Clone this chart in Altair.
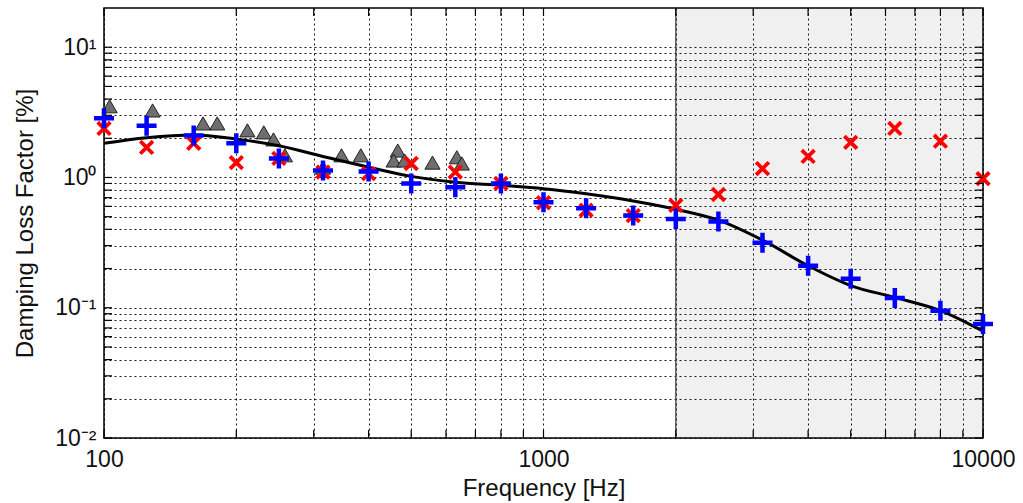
import altair as alt
import pandas as pd

# 1/3-octave band centre frequencies
bands = [100, 125, 160, 200, 250, 315, 400, 500, 630, 800, 1000, 1250, 1600,
         2000, 2500, 3150, 4000, 5000, 6300, 8000, 10000]
blue_vals = [2.85, 2.5, 2.1, 1.83, 1.4, 1.13, 1.11, 0.9, 0.84, 0.9, 0.645, 0.58,
             0.51, 0.48, 0.46, 0.316, 0.21, 0.167, 0.119, 0.095, 0.075]
red_vals = [2.38, 1.7, 1.83, 1.3, 1.4, 1.1, 1.07, 1.28, 1.1, 0.9, 0.64, 0.56,
            0.51, 0.61, 0.74, 1.17, 1.45, 1.86, 2.38, 1.9, 0.98]
line_vals = [1.83, 2.02, 2.12, 1.97, 1.75, 1.45, 1.2, 1.02, 0.92, 0.87, 0.82,
             0.75, 0.66, 0.57, 0.47, 0.33, 0.21, 0.148, 0.12, 0.095, 0.066]
tri_freq = [103, 129, 168, 181, 212, 231, 243, 258, 315, 347, 384, 466, 456,
            483, 559, 635, 652]
tri_vals = [3.52, 3.27, 2.6, 2.6, 2.3, 2.22, 1.96, 1.48, 1.19, 1.48, 1.48, 1.61,
            1.35, 1.35, 1.3, 1.43, 1.28]
shade_start = [2000]
shade_end = [10000]

x_ticks = [100, 200, 300, 400, 500, 600, 700, 800, 900,
           1000, 2000, 3000, 4000, 5000, 6000, 7000, 8000, 9000, 10000]
y_ticks = [0.01, 0.02, 0.03, 0.04, 0.05, 0.06, 0.07, 0.08, 0.09,
           0.1, 0.2, 0.3, 0.4, 0.5, 0.6, 0.7, 0.8, 0.9,
           1, 2, 3, 4, 5, 6, 7, 8, 9, 10]

W, H = 879, 430
xdom = [100, 10000]
ydom = [0.01, 20]

FONT = "Liberation Sans"

xscale = alt.Scale(type="log", domain=xdom, nice=False)
yscale = alt.Scale(type="log", domain=ydom, nice=False)

x_axis = alt.Axis(
    values=x_ticks,
    labelExpr="indexof([100,1000,10000], datum.value) >= 0 ? format(datum.value, 'd') : ''",
    grid=True, gridColor="#000", gridDash=[2, 3], gridOpacity=0.9, gridWidth=1,
    ticks=False, domain=False, labelFont=FONT, labelFontSize=23, labelColor="#111",
    labelPadding=10, labelFlush=False, labelOverlap=False,
    title="Frequency [Hz]", titleFont=FONT, titleFontSize=24, titleFontWeight="normal",
    titleColor="#111", titleY=50, titleBaseline="middle",
)
y_axis = alt.Axis(
    values=y_ticks,
    labelExpr="datum.value == 10 ? '10\u00b9' : datum.value == 1 ? '10\u2070' : datum.value == 0.1 ? '10\u207b\u00b9' : datum.value == 0.01 ? '10\u207b\u00b2' : ''",
    grid=True, gridColor="#000", gridDash=[2, 3], gridOpacity=0.9, gridWidth=1,
    ticks=False, domain=False, labelFont=FONT, labelFontSize=23, labelColor="#111",
    labelPadding=8, labelFlush=False, labelOverlap=False,
    title="Damping Loss Factor [%]", titleFont=FONT, titleFontSize=24,
    titleFontWeight="normal", titleColor="#111", titleX=-79, titleY=H / 2,
    titleAngle=-90, titleBaseline="middle", titleAlign="center",
)

shade_df = pd.DataFrame({"x": shade_start, "x2": shade_end})
shade = alt.Chart(shade_df).mark_rect(color="#000", opacity=0.058).encode(
    x=alt.X("x:Q", scale=xscale, axis=x_axis),
    x2="x2:Q",
    y=alt.value(0),
    y2=alt.value(H),
)
shade_edge = alt.Chart(shade_df).mark_rule(color="#444", strokeWidth=1.3).encode(
    x=alt.X("x:Q", scale=xscale),
    y=alt.value(0),
    y2=alt.value(H),
)

# inward tick marks on all four sides
xt = pd.DataFrame({"v": x_ticks})
yt = pd.DataFrame({"v": y_ticks})
tick_style = dict(color="#000", strokeWidth=1.2)
xt_bottom = alt.Chart(xt).mark_rule(**tick_style).encode(
    x=alt.X("v:Q", scale=xscale), y=alt.value(H), y2=alt.value(H - 8))
xt_top = alt.Chart(xt).mark_rule(**tick_style).encode(
    x=alt.X("v:Q", scale=xscale), y=alt.value(0), y2=alt.value(8))
yt_left = alt.Chart(yt).mark_rule(**tick_style).encode(
    y=alt.Y("v:Q", scale=yscale), x=alt.value(0), x2=alt.value(8))
yt_right = alt.Chart(yt).mark_rule(**tick_style).encode(
    y=alt.Y("v:Q", scale=yscale), x=alt.value(W), x2=alt.value(W - 8))

tri_df = pd.DataFrame({"f": tri_freq, "v": tri_vals})
tri = alt.Chart(tri_df).mark_point(
    shape="triangle-up", filled=True, fill="#6e6e6e", stroke="#222",
    strokeWidth=1, size=230, opacity=1,
).encode(
    x=alt.X("f:Q", scale=xscale),
    y=alt.Y("v:Q", scale=yscale, axis=y_axis),
)

line_df = pd.DataFrame({"f": bands, "v": line_vals})
line = alt.Chart(line_df).mark_line(color="#000", strokeWidth=3, interpolate="monotone").encode(
    x=alt.X("f:Q", scale=xscale),
    y=alt.Y("v:Q", scale=yscale),
)

red_df = pd.DataFrame({"f": bands, "v": red_vals})
red = alt.Chart(red_df).mark_point(
    shape="M-1,-1L1,1M1,-1L-1,1", filled=False, stroke="#ff0000",
    strokeWidth=3.8, size=160, opacity=1,
).encode(
    x=alt.X("f:Q", scale=xscale),
    y=alt.Y("v:Q", scale=yscale),
)

blue_df = pd.DataFrame({"f": bands, "v": blue_vals})
blue = alt.Chart(blue_df).mark_point(
    shape="M-1,0H1M0,-1V1", filled=False, stroke="#0000ff",
    strokeWidth=4.5, size=400, opacity=1,
).encode(
    x=alt.X("f:Q", scale=xscale),
    y=alt.Y("v:Q", scale=yscale),
)

chart = alt.layer(
    shade, shade_edge, tri, line, red, blue,
    xt_bottom, xt_top, yt_left, yt_right,
).properties(
    width=W, height=H,
    padding={"left": 104, "top": 8, "right": 40, "bottom": 65},
    autosize=alt.AutoSizeParams(type="none"),
    background="white",
).configure_view(
    stroke="#000", strokeWidth=1.5,
)

chart.save("out.html", embed_options={"renderer": "svg", "actions": False})
